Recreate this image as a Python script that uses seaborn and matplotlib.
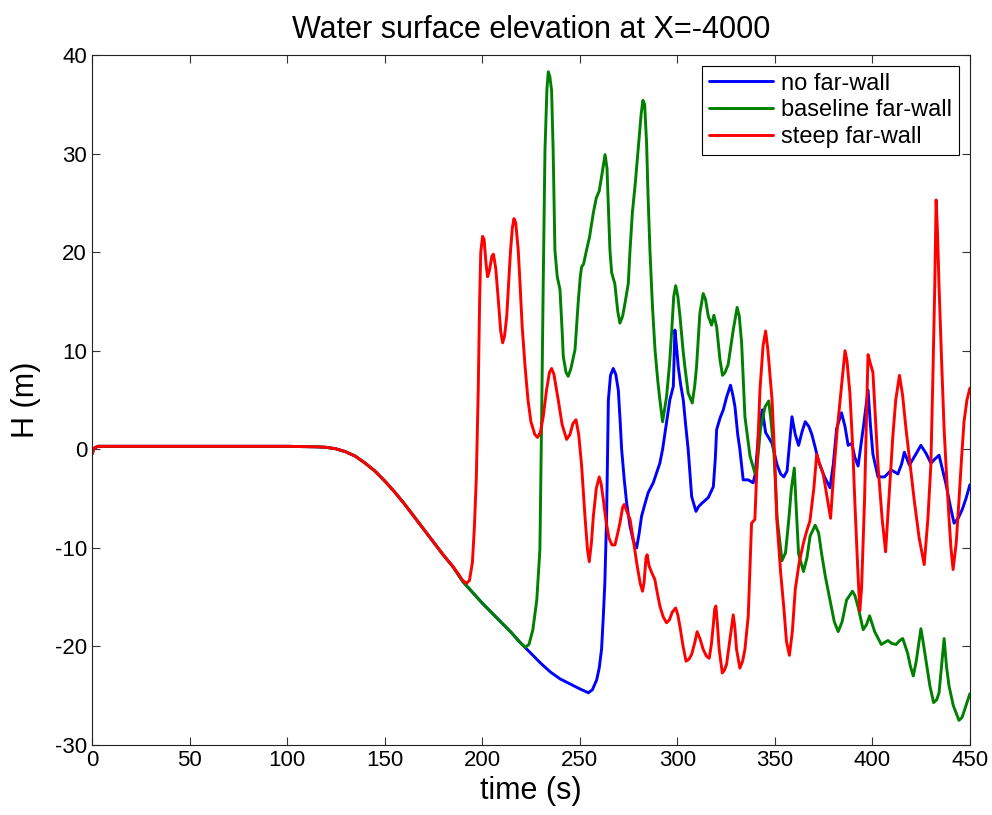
import numpy as np
import pandas as pd
import matplotlib
matplotlib.use("Agg")
import matplotlib.pyplot as plt
import seaborn as sns

# shared early part of the record (all three runs coincide here)
common_t = [0, 1, 3, 20, 60, 100, 115, 120, 125, 130, 135, 140, 145, 150, 155,
            160, 165, 170, 175, 180, 185]
common_h = [-0.5, 0.1, 0.3, 0.3, 0.3, 0.3, 0.25, 0.2, 0.05, -0.25, -0.7, -1.4, -2.2,
            -3.2, -4.3, -5.5, -6.8, -8.1, -9.4, -10.7, -11.9]

# no far-wall
blue_t = [190, 195, 200, 205, 210, 215, 219, 222, 226, 230, 235, 240, 245, 250, 254.4,
          256.5, 258.7, 260, 261.2, 262.1, 262.9, 263.8, 264.7, 265.8, 267.2, 268.5,
          269.8, 270.7, 271.5, 272.8, 274.1, 275.8, 277.5, 279.2, 280.5, 281.7, 283.5,
          285.1, 287.7, 289.4, 291.1, 292.5, 293.7, 295, 296.2, 298, 298.8, 299.6,
          300.5, 301.8, 303.1, 304.3, 305.6, 307.4, 309.6, 311, 312.5, 315.9, 318.5,
          319.5, 320.2, 322, 323.6, 325.3, 327.3, 328.5, 329.6, 331, 332.1, 333.8,
          336.4, 338.9, 340, 341.9, 343.6, 345.3, 348.6, 351.2, 353, 354.6, 356.3,
          357.5, 358.8, 360.5, 362.2, 364, 365.6, 367.5, 369, 370.7, 372.4, 375.5,
          378.3, 380, 381.7, 384.2, 386, 387.6, 389.5, 391, 392.7, 395.3, 397.8, 399,
          400.3, 402.9, 406.3, 409.7, 413.1, 415, 416.4, 419, 422, 424.9, 427.5, 430,
          432, 434.2, 437.6, 440, 441.9, 444, 446.1, 448, 450]
blue_h = [-13.4, -14.5, -15.6, -16.6, -17.6, -18.6, -19.5, -20.1, -20.9, -21.7, -22.6,
          -23.3, -23.8, -24.3, -24.7, -24.4, -23.4, -22.2, -20.3, -17, -13.5, -6.8,
          5.0, 7.5, 8.2, 7.6, 6.0, 3, 0, -3, -5.5, -7.8, -9.3, -10.0, -8.5, -6.8, -5.5,
          -4.4, -3.4, -2.4, -1.4, 0, 1.6, 3.3, 5.0, 6.4, 12.1, 10.5, 8.4, 6.5, 5.0, 2.5,
          0, -4.8, -6.3, -5.8, -5.5, -4.9, -3.8, -1, 2.0, 3.2, 4.0, 5.3, 6.5, 5.5, 4.3,
          1.5, 0, -3.1, -3.1, -3.4, -2.5, 2.1, 4.0, 1.7, 0.6, -1.6, -2.5, -2.8, -2.2,
          0.5, 3.3, 1.5, 0.4, 1.8, 2.8, 2.3, 1.5, 0.2, -1.2, -2.8, -3.9, -1.5, 2.1, 3.7,
          2.3, 0.4, 0.6, -0.8, -1.7, 2.1, 6, 2.5, -0.5, -2.8, -2.8, -2.1, -2.5, -1.5,
          -0.3, -1.6, -0.6, 0.4, -0.4, -1.4, -1.0, -0.6, -3.4, -5.8, -7.5, -7, -6.1, -5,
          -3.6]

# baseline far-wall
green_t = [190, 195, 200, 205, 210, 215, 219, 222, 224, 226, 228, 229.6, 230.5, 231.3,
           232.2, 233.2, 233.9, 234.7, 235.6, 236.4, 237.3, 238.5, 239.9, 241, 241.6,
           243, 244.1, 245.5, 247.6, 249.3, 250.3, 251, 252, 253.5, 255, 257, 258.5,
           260, 261.5, 263, 264, 265, 265.5, 266.4, 268, 269.5, 270.6, 272, 273.2,
           274.9, 275.8, 277, 278.5, 280, 281.5, 282.4, 283.3, 284.3, 285, 286, 287.3,
           288.6, 290, 291.1, 292.5, 294.5, 296, 297.1, 298.2, 299.2, 300.3, 301.4, 303,
           303.9, 305.6, 307.7, 309, 309.9, 311.6, 313.3, 314.5, 315.9, 317.6, 318.8,
           320.2, 321.9, 323.2, 324.5, 326.1, 328.7, 330.7, 331.8, 333, 334.7, 337.3,
           339.8, 340.5, 342.7, 345, 346.9, 348, 349.5, 351.2, 353.7, 355.5, 357.1,
           358.5, 360, 361, 362.2, 364.7, 366.5, 368.1, 370.7, 372.5, 374, 376, 378.3,
           380.5, 382.5, 384.5, 386.8, 389.8, 391, 392.7, 395.3, 397, 398.6, 401.2,
           404.6, 408, 410, 412.2, 414, 415.6, 418.1, 419.5, 421, 422.5, 424.9, 426,
           427.5, 429.5, 431.4, 433, 434.2, 435.5, 436.8, 438, 439.3, 441.5, 444.4, 446,
           448, 450]
green_h = [-13.4, -14.5, -15.6, -16.6, -17.6, -18.6, -19.5, -20.1, -19.8, -18.3, -15.3,
           -10.2, 3.3, 16.8, 30.3, 36.5, 38.3, 37.8, 36.4, 30.3, 20.2, 17.5, 16.2, 12,
           9.4, 7.8, 7.4, 8.2, 10.1, 15.1, 17.5, 18.5, 18.8, 20.2, 21.5, 24, 25.5, 26.2,
           28, 29.9, 28.5, 23, 20.2, 17.9, 16.8, 14, 12.8, 13.5, 14.8, 16.8, 20.2, 24,
           27, 30.5, 34, 35.4, 35, 31, 26, 20.2, 14.5, 10.1, 7, 5.0, 2.8, 5.3, 8.5, 11.8,
           15.5, 16.6, 15.5, 13.5, 10, 8.4, 5.7, 4.7, 6.5, 8.4, 13.8, 15.8, 15.2, 13.5,
           12.6, 13.6, 12.4, 9.1, 7.5, 7.8, 8.6, 12.1, 14.4, 13.5, 10.8, 3.3, -0.7, -2.4,
           -2.6, 2.1, 4.3, 4.9, 3, -0.1, -7, -11.3, -10.5, -7.3, -4, -1.9, -6, -10.6,
           -12.4, -11, -8.8, -7.7, -8.5, -10.6, -13, -15.3, -17.5, -18.5, -17.5, -15.3,
           -14.4, -14.8, -16, -18.3, -17.8, -16.9, -18.5, -19.8, -19.4, -19.7, -19.8,
           -19.4, -19.2, -20.7, -22, -23, -21.5, -18.2, -19.5, -21.4, -24, -25.7, -25.4,
           -24.7, -22, -19.2, -22, -24, -26, -27.5, -27.2, -26, -24.8]

# steep far-wall
red_t = [188, 190, 192, 193.5, 195, 196, 197, 198, 198.7, 199.3, 200.2, 201, 202, 202.8,
         203.8, 205, 205.8, 207, 208.3, 209.5, 210.5, 211.5, 212.6, 213.5, 214.5,
         215.5, 216.3, 217.2, 218.5, 219.5, 220.5, 222, 223.5, 225, 227, 228.4, 229.8,
         231.3, 233, 234.5, 235.6, 236.8, 239, 241, 243.3, 245, 246.5, 248.1, 249.5,
         251, 252.7, 254, 254.9, 256, 257, 258.5, 260, 261, 262.1, 263.5, 265, 266.5,
         268.1, 269.5, 270.6, 272, 272.8, 274, 275.8, 277.5, 279.2, 281, 282.2, 283,
         284, 284.6, 285.5, 286.9, 288.5, 290, 291.1, 292.8, 294.5, 296, 297.5, 299.2,
         300.3, 301.4, 303, 304.5, 306, 307.4, 309, 310.2, 311.8, 313.3, 315, 316.4,
         317.5, 318.4, 319.2, 319.8, 320.5, 321.5, 323.1, 324.2, 325.3, 327, 328.7,
         329.5, 330.4, 332.1, 333.5, 334.7, 336.4, 337.3, 338.1, 339.8, 341, 342.4,
         344, 345.3, 346.5, 348.6, 350, 351, 353, 354.6, 356, 357.5, 359, 360.5, 362.5,
         364.7, 366.5, 368, 370, 371.5, 373, 374.9, 376.5, 378.6, 380, 382, 384, 386,
         387, 388.5, 390, 391, 392.5, 393.6, 394.5, 396, 397.2, 397.8, 399, 400.3,
         401.5, 402.9, 405, 406.8, 408.5, 410.5, 412, 413.9, 415.5, 417.3, 419.5, 421.5,
         424, 426.6, 428.5, 430, 431, 432, 432.7, 433.4, 434.2, 435.5, 436.8, 438,
         439.3, 440.3, 441.4, 443, 444.4, 445.7, 447, 448.5, 450]
red_h = [-12.7, -13.3, -13.6, -13.3, -11.5, -8, -3, 6, 15, 20, 21.6, 21.3, 18.8, 17.5,
         18.2, 19.6, 19.8, 18.3, 15.1, 12, 10.8, 11.5, 13.5, 16.5, 20, 22.5, 23.4, 23,
         20.2, 16.5, 12.5, 8.4, 5, 2.8, 1.5, 1.2, 1.7, 3.3, 6, 7.8, 8.2, 7.6, 5.0, 2.5,
         1.0, 1.5, 2.6, 3.0, 1.5, -1.7, -6.8, -10.2, -11.4, -9.5, -6.8, -4, -2.8, -3.5,
         -5.1, -7.3, -9, -9.7, -9.7, -8.5, -7.5, -5.9, -5.6, -6.2, -7.1, -9.2, -11.5,
         -13.6, -14.4, -13.5, -11, -10.7, -11.8, -12.5, -13.2, -14.8, -15.9, -17, -17.6,
         -17.3, -16.5, -16.1, -16.8, -18, -20, -21.5, -21.3, -20.8, -19.6, -18.5, -19.3,
         -20.3, -21, -21.2, -19.8, -18, -16.2, -15.9, -17.5, -20.3, -22.7, -22.4, -21.8,
         -19.3, -16.8, -18, -20.3, -22.2, -21.5, -20.3, -16.9, -12, -7.5, -7.1, -1, 6.0,
         10.5, 12.0, 10, 5, -1, -7, -12.5, -16, -19.5, -20.9, -18.5, -14.2, -11.5, -9.5,
         -8.2, -7.3, -4, -0.5, -1.5, -2.6, -4.5, -7, -3, 2, 6, 10, 9, 5.7, 0, -5.2, -12,
         -16.4, -14, -5.2, 5, 9.6, 8.7, 7.8, 3.5, -1.6, -7, -10.4, -5, 1.3, 5, 7.5, 5.5,
         2, -1.8, -5.2, -9, -11.7, -7, -1.6, 7, 16.5, 25.3, 22, 16.5, 9, 2, -2.5, -7,
         -10, -12.2, -9.5, -5.2, -1, 2.8, 5, 6.2]

labels = ["no far-wall", "baseline far-wall", "steep far-wall"]
colors = {"no far-wall": "#0000ff", "baseline far-wall": "#008000",
          "steep far-wall": "#ff0000"}

frames = []
for name, tt, hh in [(labels[0], blue_t, blue_h),
                     (labels[1], green_t, green_h),
                     (labels[2], red_t, red_h)]:
    frames.append(pd.DataFrame({"t": common_t + tt, "H": common_h + hh, "case": name}))
df = pd.concat(frames, ignore_index=True)

sns.set_style("ticks")
plt.rcParams["font.family"] = ["Liberation Sans", "DejaVu Sans"]
plt.rcParams["axes.unicode_minus"] = False
plt.rcParams["xtick.direction"] = "in"
plt.rcParams["ytick.direction"] = "in"
plt.rcParams["text.color"] = "black"
plt.rcParams["axes.labelcolor"] = "black"
plt.rcParams["xtick.color"] = "black"
plt.rcParams["ytick.color"] = "black"

fig = plt.figure(figsize=(9.92, 8.15), dpi=100)
ax = fig.add_axes([0.0927, 0.0859, 0.885, 0.8466])

sns.lineplot(data=df, x="t", y="H", hue="case", hue_order=labels, palette=colors,
             sort=False, estimator=None, linewidth=2.1, ax=ax)

ax.set_xlim(0, 450)
ax.set_ylim(-30, 40)
ax.set_xticks(np.arange(0, 451, 50))
ax.set_yticks(np.arange(-30, 41, 10))
ax.tick_params(axis="both", which="both", top=True, right=True, length=5.5,
               width=0.8, labelsize=16, color="#333333", labelcolor="black")
for s in ax.spines.values():
    s.set_visible(True)
    s.set_linewidth(0.8)
    s.set_color("#222222")

ax.set_title("Water surface elevation at X=-4000", fontsize=22, pad=12, color="black")
ax.set_xlabel("time (s)", fontsize=22, labelpad=4, color="black")
ax.set_ylabel("H (m)", fontsize=22, labelpad=10, color="black")

handles, labs = ax.get_legend_handles_labels()
leg = ax.legend(handles, labs, loc="upper right", fontsize=17, fancybox=False,
                edgecolor="black", framealpha=1, borderaxespad=0.45,
                labelspacing=0.2, handlelength=2.7, handletextpad=0.35,
                borderpad=0.3)
leg.get_frame().set_linewidth(0.8)
for txt in leg.get_texts():
    txt.set_color("black")

fig.savefig("out.png", dpi=100)
